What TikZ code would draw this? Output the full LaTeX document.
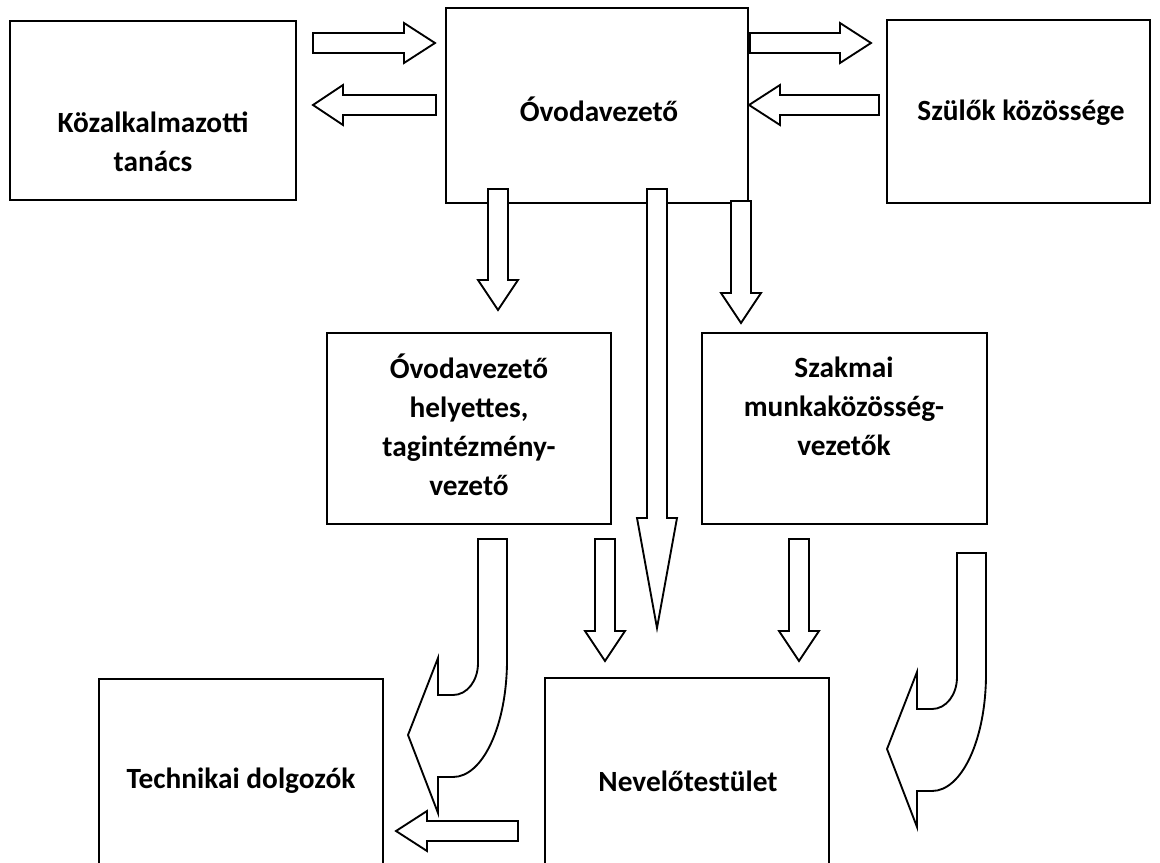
\documentclass[tikz,border=0pt]{standalone}
\usepackage{fontspec}
\setmainfont{Carlito}
\usetikzlibrary{fit}

\begin{document}
\begin{tikzpicture}[x=0.75pt,y=-0.75pt,
  box/.style={draw,line width=1.4pt,inner sep=0pt},
  txt/.style={font=\bfseries\fontsize{22}{29.25}\selectfont,align=center},
  barrow/.style={draw,fill=white,line width=1.4pt,line join=miter}]
   \clip (0,0) rectangle (1160,863);
   \node[box,fit={(10,21) (296,200)}] (kt) {};
   \node[box,fit={(446,8) (748,203)}] (ov) {};
   \node[box,fit={(887,20) (1150,203)}] (sz) {};
   \node[box,fit={(327,333) (611,524)}] (hh) {};
   \node[box,fit={(702,333) (987,524)}] (sm) {};
   \node[box,fit={(99,679) (383,900)}] (td) {};
   \node[box,fit={(545,678) (829,900)}] (nt) {};
   \node[txt] (kt-t) at (153,142) {Közalkalmazotti\\tanács};
   \node[txt] (ov-t) at (599,109) {Óvodavezető};
   \node[txt] (sz-t) at (1021,113) {Szülők közössége};
   \node[txt] (hh-t) at (469,425) {Óvodavezető\\helyettes,\\tagintézmény-\\vezető};
   \node[txt] (sm-t) at (844,406) {Szakmai\\munkaközösség-\\vezetők};
   \node[txt] (td-t) at (241,781) {Technikai dolgozók};
   \node[txt] (nt-t) at (688,781) {Nevelőtestület};
   \foreach \y/\a/\b/\c in {43/313/404/435, 105/436/343/313,
                            43/750/840/871, 105/879/780/749, 831/518/427/396}
     \draw[barrow] (\a,\y-10) -- (\b,\y-10) -- (\b,\y-20) -- (\c,\y)
       -- (\b,\y+20) -- (\b,\y+10) -- (\a,\y+10) -- cycle;
   \foreach \x/\a/\b/\c in {498/189/280/310, 657/189/518/628, 741/201/293/323,
                            605/539/631/661, 799/539/631/661}
     \draw[barrow] (\x-10,\a) -- (\x+10,\a) -- (\x+10,\b) -- (\x+20,\b)
       -- (\x,\c) -- (\x-20,\b) -- (\x-10,\b) -- cycle;
   \foreach \dx/\dy in {0/0, 479/14}
     \draw[barrow,shift={(\dx,\dy)}] (478,539) -- (507,539) -- (507,660)
       .. controls (507,725) and (483,777) .. (453,777) -- (438,777)
       -- (438,813) -- (408,735) -- (438,658) -- (438,695) -- (453,695)
       .. controls (467,695) and (478,681) .. (478,663) -- cycle;
\end{tikzpicture}
\end{document}
